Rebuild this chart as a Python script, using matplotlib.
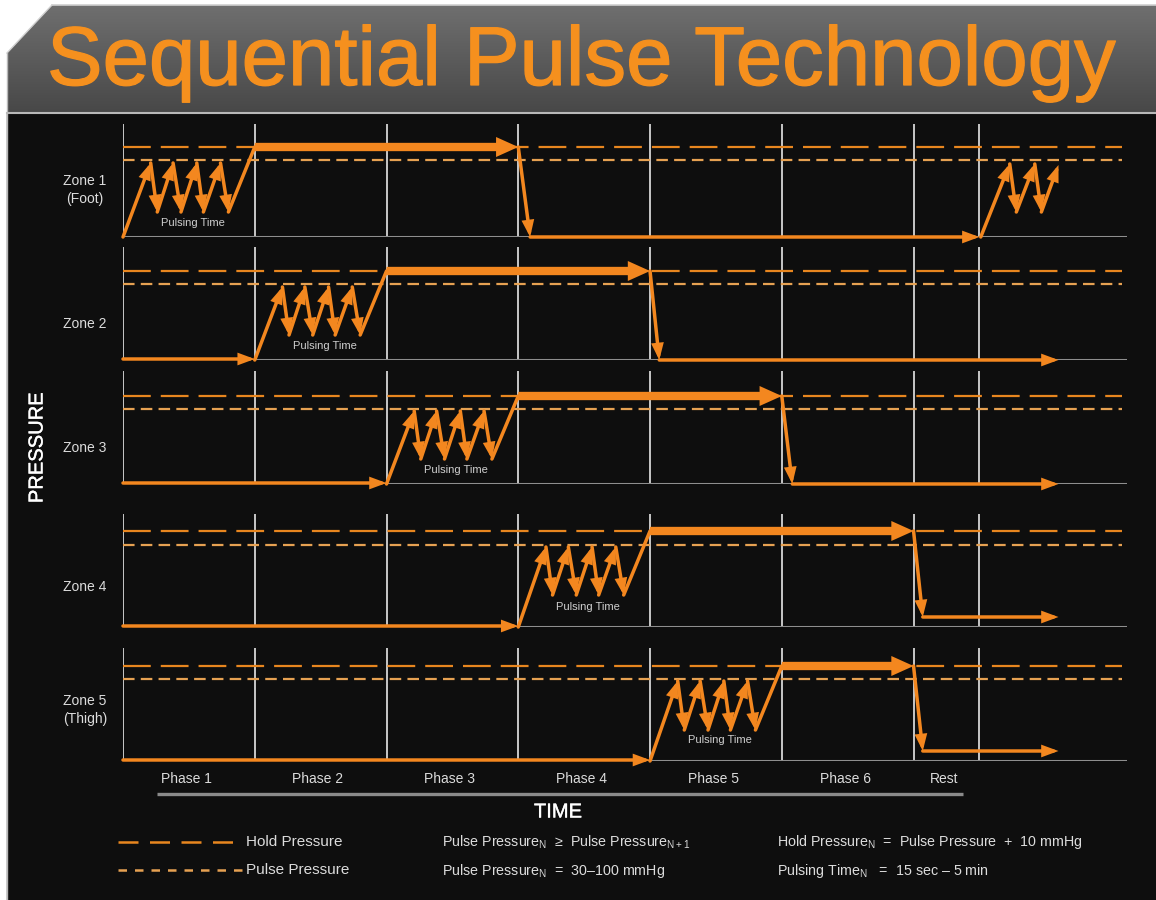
import numpy as np
import matplotlib
matplotlib.use("Agg")
import matplotlib.pyplot as plt
import matplotlib.patheffects as pe
from matplotlib.patches import Polygon, Rectangle
from matplotlib.colors import LinearSegmentedColormap

plt.rcParams['font.family'] = ['Liberation Sans', 'DejaVu Sans']
plt.rcParams['mathtext.fontset'] = 'custom'
plt.rcParams['mathtext.rm'] = 'Liberation Sans'
plt.rcParams['mathtext.it'] = 'Liberation Sans:italic'

# ---------------- data ----------------
TITLE = "Sequential Pulse Technology"
phase_edges = [0, 1, 2, 3, 4, 5, 6, 6.5]
phase_labels = ["Phase 1", "Phase 2", "Phase 3", "Phase 4", "Phase 5", "Phase 6", "Rest"]
zone_labels = ["Zone 1\n(Foot)", "Zone 2", "Zone 3", "Zone 4", "Zone 5\n(Thigh)"]
hold_level = [90, 89, 88, 96, 95]
pulse_level = [77, 76, 75, 82, 82]
peak_level = [74, 73, 73, 80, 80]
trough_level = [25, 25, 25, 32, 31]
pulse_start = [0, 1, 2, 3, 4]
hold_end = [3, 4, 5, 6, 6]
drop_end_x = [3.09, 4.07, 5.08, 6.07, 6.07]
rest_level = [0, 0, 0, 10, 10]
final_x = [6.5, 7.1, 7.1, 7.1, 7.1]
pulsing_label_y = [14, 14, 14, 20, 21]
zone_label_y = [47, 36, 36, 40, 51]
peak_offsets = [0.21, 0.38, 0.56, 0.74]
trough_offsets = [0.26, 0.44, 0.61, 0.80]
restart_x = [6.51, 6.73, 6.78, 6.92, 6.97, 7.10]
restart_y = [0, 73, 25, 73, 25, 72]

legend_left = ["Hold Pressure", "Pulse Pressure"]
legend_mid = [r"Pulse Pressure$_\mathrm{N}$  ≥  Pulse Pressure$_\mathrm{N+1}$",
              r"Pulse Pressure$_\mathrm{N}$  =  30–100 mmHg"]
legend_right = [r"Hold Pressure$_\mathrm{N}$  =  Pulse Pressure  +  10 mmHg",
                r"Pulsing Time$_\mathrm{N}$   =  15 sec – 5 min"]

# ---------------- style ----------------
W, H = 1156, 900
ORANGE = '#F3871F'
HOLD_C = '#E8861F'
PULSE_C = '#E6A152'
GRID_C = '#c8c8c8'
BASE_C = '#8e8e8e'
TEXT_C = '#dcdcdc'
BG = '#0e0e0e'
TITLE_C = '#F5901E'

fig = plt.figure(figsize=(W / 100, H / 100), dpi=100, facecolor='white')

# background axes in pixel coordinates
bg = fig.add_axes([0, 0, 1, 1])
bg.set_xlim(0, W)
bg.set_ylim(H, 0)
bg.axis('off')
bg.add_patch(Rectangle((7, 112), W - 7, H - 112, color=BG, zorder=0))
band = Polygon([(52, 5), (W, 5), (W, 112), (7, 112), (7, 53)], closed=True,
               facecolor='none', edgecolor='none')
bg.add_patch(band)
grad = np.linspace(0, 1, 256).reshape(-1, 1)
cm = LinearSegmentedColormap.from_list('g', ['#6f6f6f', '#484848'])
im = bg.imshow(grad, extent=[0, W, 112, 5], aspect='auto', cmap=cm, zorder=1)
im.set_clip_path(band)
bg.plot([52, W], [5, 5], color='#d0d0d0', lw=1.2, zorder=2)
bg.plot([7, 52], [53, 5], color='#d0d0d0', lw=1.0, zorder=2)
bg.plot([7, W], [112.5, 112.5], color='#b8b8b8', lw=1.5, zorder=2)
bg.plot([7, 7], [53, H], color='#b8b8b8', lw=1.0, zorder=2)
bg.text(47, 85, TITLE, fontsize=60, color=TITLE_C, ha='left', va='baseline', zorder=3,
        path_effects=[pe.withStroke(linewidth=0.9, foreground=TITLE_C)])

bg.text(37, 448, "PRESSURE", rotation=90, fontsize=14.5, color='white', ha='center', va='center',
        path_effects=[pe.withStroke(linewidth=0.25, foreground='white')])
bg.text(558, 812, "TIME", fontsize=14.5, color='white', ha='center', va='center',
        path_effects=[pe.withStroke(linewidth=0.25, foreground='white')])

# legend
bg.plot([118, 244], [842, 842], color=HOLD_C, lw=1.8, dashes=(8, 4.6))
bg.plot([118, 244], [870, 870], color=PULSE_C, lw=1.8, dashes=(3.4, 3.2))
for i, t in enumerate(legend_left):
    bg.text(246, 842 + 28 * i, t, fontsize=11, color=TEXT_C, ha='left', va='center')
for i, t in enumerate(legend_mid):
    bg.text(442, 842 + 29 * i, t, fontsize=10.3, color=TEXT_C, ha='left', va='center')
for i, t in enumerate(legend_right):
    bg.text(777, 842 + 29 * i, t, fontsize=10.3, color=TEXT_C, ha='left', va='center')

# ---------------- zones ----------------
LEFT_PX, RIGHT_PX = 123, 1127
XMAX = 7.62
ZH = 113
zone_base_px = [237, 360, 484, 627, 761]


def thin(ax, p0, p1, head=True):
    style = '-|>,head_length=0.38,head_width=0.14' if head else '-'
    ax.annotate('', xy=p1, xytext=p0, annotation_clip=False,
                arrowprops=dict(arrowstyle=style, color=ORANGE, lw=2.5,
                                shrinkA=0, shrinkB=0, mutation_scale=20,
                                capstyle='round', joinstyle='miter'), zorder=5)


def thick(ax, p0, p1):
    ax.annotate('', xy=p1, xytext=p0, annotation_clip=False,
                arrowprops=dict(arrowstyle='simple,head_length=0.8,head_width=0.72,tail_width=0.3',
                                color=ORANGE, lw=0, shrinkA=0, shrinkB=0,
                                mutation_scale=20), zorder=6)


axes = []
for z in range(5):
    base = zone_base_px[z]
    ax = fig.add_axes([LEFT_PX / W, 1 - base / H, (RIGHT_PX - LEFT_PX) / W, ZH / H])
    ax.set_xlim(0, XMAX)
    ax.set_ylim(0, ZH)
    ax.axis('off')
    axes.append(ax)

    ax.vlines(phase_edges, 0, ZH, color=GRID_C, lw=1.4, zorder=1)
    ax.plot([0, XMAX], [0, 0], color=BASE_C, lw=2.2, zorder=2, solid_capstyle='butt')
    ax.plot([0, 7.58], [hold_level[z]] * 2, color=HOLD_C, lw=1.6, dashes=(12.5, 4.5), zorder=3)
    ax.plot([0, 7.58], [pulse_level[z]] * 2, color=PULSE_C, lw=1.6, dashes=(5.2, 2.8), zorder=3)

    s = pulse_start[z]
    if s > 0:
        thin(ax, (0, 1), (s, 1))
    pts_x = [s]
    pts_y = [0]
    for po, to in zip(peak_offsets, trough_offsets):
        pts_x += [s + po, s + to]
        pts_y += [peak_level[z], trough_level[z]]
    for i in range(len(pts_x) - 1):
        thin(ax, (pts_x[i], pts_y[i]), (pts_x[i + 1], pts_y[i + 1]))
    thin(ax, (pts_x[-1], pts_y[-1]), (s + 1, hold_level[z]), head=False)
    thick(ax, (s + 1, hold_level[z]), (hold_end[z], hold_level[z]))
    thin(ax, (hold_end[z], hold_level[z]), (drop_end_x[z], rest_level[z]))
    thin(ax, (drop_end_x[z], rest_level[z]), (final_x[z], rest_level[z]))
    if z == 0:
        for i in range(len(restart_x) - 1):
            thin(ax, (restart_x[i], restart_y[i]), (restart_x[i + 1], restart_y[i + 1]))

    ax.text(s + 0.53, pulsing_label_y[z], "Pulsing Time", fontsize=8, color='#cfcfcf',
            ha='center', va='center', zorder=4)
    ax.text(-0.29, zone_label_y[z], zone_labels[z], fontsize=10, color=TEXT_C,
            ha='center', va='center', multialignment='center', linespacing=1.4)

# phase labels under zone 5
ax5 = axes[-1]
for i, lab in enumerate(phase_labels):
    c = (phase_edges[i] + phase_edges[i + 1]) / 2
    ax5.text(c - 0.02, -18, lab, fontsize=10, color=TEXT_C, ha='center', va='center', clip_on=False)
ax5.plot([0.26, 6.375], [-33, -33], color='#8a8a8a', lw=2.4, clip_on=False, solid_capstyle='butt')

fig.savefig('out.png', dpi=100, facecolor='white')
